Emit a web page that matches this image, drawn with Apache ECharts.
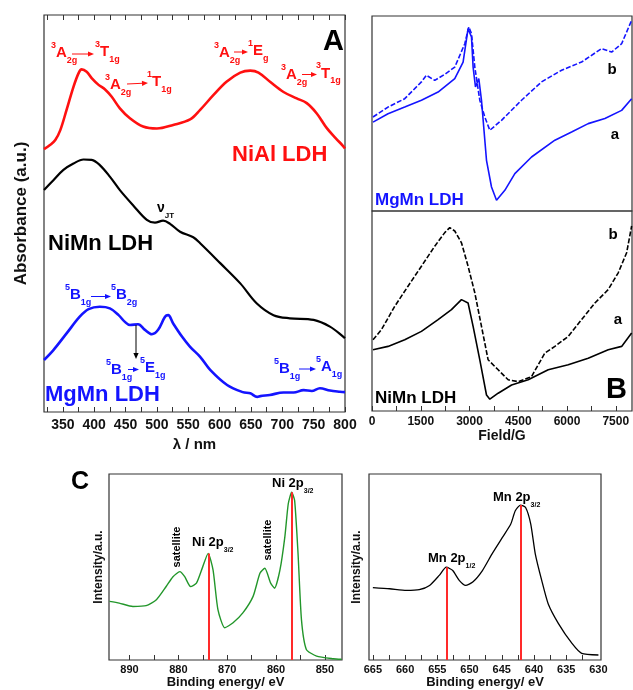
<!DOCTYPE html>
<html><head><meta charset="utf-8">
<script src="https://cdn.jsdelivr.net/npm/echarts@6/dist/echarts.min.js"></script>
<style>html,body{margin:0;padding:0;background:#fff}#c{width:633px;height:690px}</style>
</head><body><div id="c"></div>
<script>
// ---------- DATA ----------
// Panel A : UV-vis (wavelength nm, absorbance a.u.)
const niAlUV = [[320,66.2],[330,67.3],[338,68.5],[346,71.0],[356,76.1],[367,81.9],[375,85.3],[380,86.3],[388,85.7],[396,84.1],[407,82.4],[417,81.3],[428,79.4],[441,76.5],[457,74.0],[478,71.9],[500,71.4],[526,72.3],[553,73.7],[569,76.1],[590,79.8],[611,83.2],[633,85.5],[649,86.0],[662,85.5],[681,83.1],[702,80.6],[723,79.0],[739,77.8],[755,75.2],[771,71.5],[785,69.0],[797,67.0],[800,66.4]];
const niMnUV = [[320,55.9],[335,58.4],[351,61.0],[367,62.6],[383,63.6],[396,63.5],[409,62.2],[425,59.3],[441,55.9],[462,52.1],[484,48.4],[497,47.7],[510,48.2],[521,47.4],[537,45.4],[558,44.0],[569,42.5],[601,37.5],[633,32.4],[659,27.4],[686,24.4],[712,23.6],[750,23.2],[776,21.5],[797,19.0],[800,18.6]];
const mgMnUV = [[320,13.1],[335,15.6],[356,19.8],[377,24.0],[391,25.9],[409,26.5],[425,26.1],[439,24.4],[449,22.7],[457,21.9],[470,22.1],[481,20.7],[492,19.6],[502,20.7],[513,24.0],[518,24.4],[526,22.3],[540,19.0],[553,16.4],[569,13.9],[585,10.6],[612,6.8],[637,5.0],[649,4.7],[660,3.8],[665,4.0],[680,4.3],[702,4.9],[718,4.9],[734,5.5],[747,5.3],[760,6.0],[776,5.4],[792,5.1],[800,5.0]];
const uvTicks = [325,350,375,400,425,450,475,500,525,550,575,600,625,650,675,700,725,750,775,800];
const uvLabels = [350,400,450,500,550,600,650,700,750,800];

// Panel EPR (field G, signal a.u.)
const eprMgMnA = [[31,45.6],[493,49.9],[1007,53.3],[1521,56.8],[2033,61.0],[2547,67.9],[2803,76.4],[2956,93.5],[3061,89.2],[3111,73.8],[3184,63.6],[3286,67.9],[3369,56.8],[3523,26.0],[3677,12.3],[3831,5.5],[4087,10.6],[4395,19.2],[4909,27.7],[5627,36.3],[6141,40.5],[6652,44.8],[7166,47.4],[7681,51.6],[7989,57.6]];
const eprMgMnB = [[31,48.2],[493,53.3],[1007,57.6],[1521,66.2],[1675,69.6],[1931,67.0],[2239,70.1],[2547,73.8],[2855,85.8],[2978,94.4],[3061,91.0],[3163,73.8],[3317,56.8],[3471,48.2],[3625,41.4],[3985,46.5],[4601,56.8],[5217,66.2],[5833,72.2],[6449,76.4],[7065,83.3],[7373,81.5],[7681,85.8],[7989,97.8]];
const eprNiMnA = [[31,30.6],[493,32.3],[1007,35.6],[1521,39.8],[2033,45.7],[2445,50.7],[2753,55.7],[2956,54.0],[3111,42.3],[3317,25.6],[3523,8.0],[3625,5.9],[3882,8.9],[4295,13.0],[4806,15.6],[5422,20.6],[6038,23.1],[6652,26.4],[7268,30.6],[7681,32.3],[7989,39.0]];
const eprNiMnB = [[31,35.6],[288,40.6],[698,52.3],[1108,62.4],[1521,72.4],[1931,82.4],[2239,89.2],[2393,91.7],[2547,90.0],[2753,84.1],[2956,72.4],[3163,59.1],[3369,42.3],[3573,25.6],[3882,20.6],[4190,15.6],[4498,14.7],[4909,17.2],[5319,29.0],[5627,32.3],[6038,37.3],[6449,45.7],[6858,54.0],[7268,60.7],[7576,69.1],[7835,79.1],[7989,92.5]];
const eprTicks = [0,750,1500,2250,3000,3750,4500,5250,6000,6750,7500];
const eprLabels = [0,1500,3000,4500,6000,7500];

// Panel C : XPS (binding energy eV, intensity a.u.)
const niXPS = [[894.1,31.5],[892.1,30.6],[889.3,28.8],[886.6,29.2],[884.5,32.4],[882.5,39.5],[881.1,44.8],[879.7,47.5],[878.7,44.8],[877.5,39.5],[876.3,41.3],[875.0,50.2],[873.9,57.3],[872.9,48.4],[871.9,27.1],[870.5,17.3],[868.8,20.0],[866.8,25.3],[864.7,34.2],[863.3,46.6],[862.3,49.3],[861.1,41.3],[860.3,38.6],[859.2,48.4],[858.2,66.2],[857.5,84.0],[856.8,90.2],[856.2,85.8],[855.5,57.3],[854.8,21.7],[853.8,5.7],[851.7,2.1],[848.3,0.7],[846.6,0.4]];
const niPeaks = [[873.8,57.3],[856.8,90.2]];
const niTicks = [850,855,860,865,870,875,880,885,890];
const niLabels = [850,860,870,880,890];
const mnXPS = [[665.0,38.9],[662.4,38.3],[659.8,37.4],[657.8,37.8],[656.2,40.1],[654.7,45.5],[653.6,49.9],[652.6,48.1],[651.6,42.8],[650.6,40.1],[649.5,41.9],[648.0,48.1],[646.5,57.1],[644.9,65.9],[643.6,73.1],[642.9,80.2],[642.1,83.3],[641.3,82.0],[640.5,73.1],[639.8,57.1],[638.8,42.8],[637.8,30.3],[636.2,19.6],[634.1,8.9],[632.6,3.6],[630.0,2.7]];
const mnPeaks = [[653.6,49.9],[642.1,83.3]];
const mnTicks = [632.5,635,637.5,640,642.5,645,647.5,650,652.5,655,657.5,660,662.5,665];
const mnLabels = [630,635,640,645,650,655,660,665];

// ---------- LAYOUT / STYLE ----------
const FONT = '"Liberation Sans", Arial, sans-serif';
const RED = '#ff1010', BLUE = '#1414ff', GREEN = '#22962a', BLK = '#111';

function xAx(grid, min, max, ticks, labels, opt) {
  opt = opt || {};
  return {
    gridIndex: grid, type: 'value', min: min, max: max, inverse: !!opt.inverse,
    position: opt.position || 'bottom',
    axisLine: {show: false}, splitLine: {show: false},
    axisTick: ticks ? {show: true, inside: true, length: 5, customValues: ticks, lineStyle: {color: '#333'}} : {show: false},
    axisLabel: labels ? {show: true, customValues: labels, formatter: v => String(v), fontSize: opt.fs || 12, fontWeight: 'bold', color: BLK, fontFamily: FONT, margin: opt.margin || 5} : {show: false},
    name: opt.name || '', nameLocation: 'middle', nameGap: opt.nameGap || 20,
    nameTextStyle: {fontSize: opt.nfs || 14, fontWeight: 'bold', color: BLK, fontFamily: FONT}
  };
}
function yAx(grid, opt) {
  opt = opt || {};
  return {
    gridIndex: grid, type: 'value', min: 0, max: 100,
    axisLine: {show: false}, axisTick: {show: false}, axisLabel: {show: false}, splitLine: {show: false},
    name: opt.name || '', nameLocation: 'middle', nameGap: opt.nameGap || 10,
    nameTextStyle: {fontSize: opt.nfs || 12, fontWeight: 'bold', color: BLK, fontFamily: FONT}
  };
}
function line(name, data, xi, yi, color, width, extra) {
  return Object.assign({
    name: name, type: 'line', data: data, xAxisIndex: xi, yAxisIndex: yi,
    showSymbol: false, symbol: 'none', lineStyle: {color: color, width: width}, silent: true
  }, extra || {});
}
function peakLines(peaks) {
  return {
    silent: true, symbol: 'none', label: {show: false},
    lineStyle: {color: '#ff2a2a', width: 2, type: 'solid'},
    data: peaks.map(p => [{coord: [p[0], 0]}, {coord: [p[0], p[1]]}])
  };
}

// text helpers for annotations
function rich(color, size, small) {
  const base = {fontWeight: 'bold', fontFamily: FONT, fill: color};
  return {
    p: Object.assign({fontSize: small, lineHeight: small, verticalAlign: 'top'}, base),
    m: Object.assign({fontSize: size, lineHeight: 24, verticalAlign: 'middle'}, base),
    b: Object.assign({fontSize: small, lineHeight: small, verticalAlign: 'bottom'}, base)
  };
}
function term(x, y, sup, main, sub, color, size, small) {
  return {type: 'text', x: x, y: y, silent: true, z: 100,
    style: {text: (sup ? '{p|' + sup + '}' : '') + '{m|' + main + '}' + (sub ? '{b|' + sub + '}' : ''),
      align: 'left', verticalAlign: 'middle', rich: rich(color, size || 15, small || 9)}};
}
function txt(x, y, s, size, color, align, rot) {
  return {type: 'text', x: x, y: y, rotation: rot || 0, silent: true, z: 100,
    style: {text: s, align: align || 'left', verticalAlign: 'middle', fill: color,
      font: 'bold ' + size + 'px ' + FONT}};
}
function arrow(x1, y1, x2, y2, color, lw) {
  const dx = x2 - x1, dy = y2 - y1, L = Math.sqrt(dx * dx + dy * dy), ux = dx / L, uy = dy / L;
  const hl = 6, hw = 2.6;
  return [
    {type: 'line', silent: true, z: 100, shape: {x1: x1, y1: y1, x2: x2 - ux * hl * 0.8, y2: y2 - uy * hl * 0.8}, style: {stroke: color, lineWidth: lw || 1}},
    {type: 'polygon', silent: true, z: 100, shape: {points: [[x2, y2], [x2 - ux * hl - uy * hw, y2 - uy * hl + ux * hw], [x2 - ux * hl + uy * hw, y2 - uy * hl - ux * hw]]}, style: {fill: color}}
  ];
}

const graphics = [].concat(
  // Panel A labels
  [txt(344, 42, 'A', 29, '#000', 'right')],
  [term(51, 53, '3', 'A', '2g', RED), term(95, 52, '3', 'T', '1g', RED)], arrow(72, 54, 94, 54, RED, 1),
  [term(105, 85, '3', 'A', '2g', RED), term(147, 82, '1', 'T', '1g', RED)], arrow(127, 84, 148, 83, RED, 1),
  [term(214, 53, '3', 'A', '2g', RED), term(248, 51, '1', 'E', 'g', RED)], arrow(234, 52, 248, 52, RED, 1),
  [term(281, 75, '3', 'A', '2g', RED), term(316, 73.5, '3', 'T', '1g', RED)], arrow(302, 74.5, 317, 74.5, RED, 1),
  [txt(232, 155, 'NiAl LDH', 22, RED)],
  [term(157, 208, '', 'ν', 'JT', '#000', 14, 8)],
  [txt(48, 243.5, 'NiMn LDH', 22, '#000')],
  [term(65, 295, '5', 'B', '1g', BLUE), term(111, 295, '5', 'B', '2g', BLUE)], arrow(91, 296.5, 111, 296.5, BLUE, 1),
  arrow(136, 325, 136, 359, '#000', 1),
  [term(106, 370, '5', 'B', '1g', BLUE), term(140, 368, '5', 'E', '1g', BLUE)], arrow(128, 369.5, 139, 369.5, BLUE, 1),
  [term(274, 369, '5', 'B', '1g', BLUE), term(316, 367, '5', 'A', '1g', BLUE)], arrow(299, 369, 316, 369, BLUE, 1),
  [txt(45, 395, 'MgMn LDH', 22, BLUE)],
  // EPR labels
  [txt(612, 70, 'b', 15, '#000', 'center'), txt(615, 135, 'a', 15, '#000', 'center'),
   txt(375, 200, 'MgMn LDH', 17, BLUE)],
  [txt(613, 235, 'b', 15, '#000', 'center'), txt(618, 320, 'a', 15, '#000', 'center'),
   txt(627, 390, 'B', 29, '#000', 'right'), txt(375, 398, 'NiMn LDH', 17, '#000')],
  // XPS labels
  [txt(80, 482, 'C', 25, '#000', 'center')],
  [txt(177, 547, 'satellite', 11, '#000', 'center', Math.PI / 2), txt(268, 540, 'satellite', 11, '#000', 'center', Math.PI / 2)],
  [term(192, 542, '', 'Ni 2p', '3/2', '#000', 13, 7), term(272, 483, '', 'Ni 2p', '3/2', '#000', 13, 7)],
  [term(428, 558, '', 'Mn 2p', '1/2', '#000', 13, 7), term(493, 497, '', 'Mn 2p', '3/2', '#000', 13, 7)]
);

const grids = [
  {left: 44, top: 15, width: 301, height: 397},
  {left: 372, top: 16, width: 260, height: 195},
  {left: 372, top: 211, width: 260, height: 200},
  {left: 109, top: 474, width: 233, height: 186},
  {left: 369, top: 474, width: 232, height: 186}
].map(g => Object.assign(g, {show: true, borderColor: '#333', borderWidth: 1.2, backgroundColor: 'transparent'}));

const option = {
  animation: false,
  backgroundColor: '#fff',
  grid: grids,
  xAxis: [
    xAx(0, 320, 800, uvTicks, uvLabels, {fs: 14, margin: 6, name: 'λ / nm', nameGap: 24, nfs: 15}),
    xAx(0, 320, 800, uvTicks, null, {position: 'top'}),
    xAx(1, 0, 8000, null, null),
    xAx(2, 0, 8000, eprTicks, eprLabels, {fs: 12, margin: 5, name: 'Field/G', nameGap: 17, nfs: 14}),
    xAx(3, 846.5, 894.2, niTicks, niLabels, {inverse: true, fs: 11, margin: 4, name: 'Binding energy/ eV', nameGap: 16, nfs: 13}),
    xAx(4, 629.6, 665.6, mnTicks, mnLabels, {inverse: true, fs: 11, margin: 4, name: 'Binding energy/ eV', nameGap: 16, nfs: 13})
  ],
  yAxis: [
    yAx(0, {name: 'Absorbance (a.u.)', nameGap: 14, nfs: 17}),
    yAx(1), yAx(2),
    yAx(3, {name: 'Intensity/a.u.', nameGap: 4, nfs: 12}),
    yAx(4, {name: 'Intensity/a.u.', nameGap: 6, nfs: 12})
  ],
  series: [
    line('NiAl LDH', niAlUV, 0, 0, RED, 2.6, {smooth: 0.35}),
    line('NiMn LDH', niMnUV, 0, 0, '#000', 2.2, {smooth: 0.35}),
    line('MgMn LDH', mgMnUV, 0, 0, BLUE, 2.6, {smooth: 0.35}),
    line('MgMn a', eprMgMnA, 2, 1, BLUE, 1.6),
    line('MgMn b', eprMgMnB, 2, 1, BLUE, 1.6, {lineStyle: {color: BLUE, width: 1.6, type: [5, 2]}}),
    line('NiMn a', eprNiMnA, 3, 2, '#000', 1.6),
    line('NiMn b', eprNiMnB, 3, 2, '#000', 1.6, {lineStyle: {color: '#000', width: 1.6, type: [5, 2]}}),
    line('Ni 2p', niXPS, 4, 3, GREEN, 1.4, {smooth: 0.2, markLine: peakLines(niPeaks), z: 2}),
    line('Mn 2p', mnXPS, 5, 4, '#000', 1.3, {smooth: 0.2, markLine: peakLines(mnPeaks), z: 2})
  ],
  graphic: graphics
};
const chart = echarts.init(document.getElementById('c'), null, {renderer: 'canvas'});
chart.setOption(option);
</script></body></html>
